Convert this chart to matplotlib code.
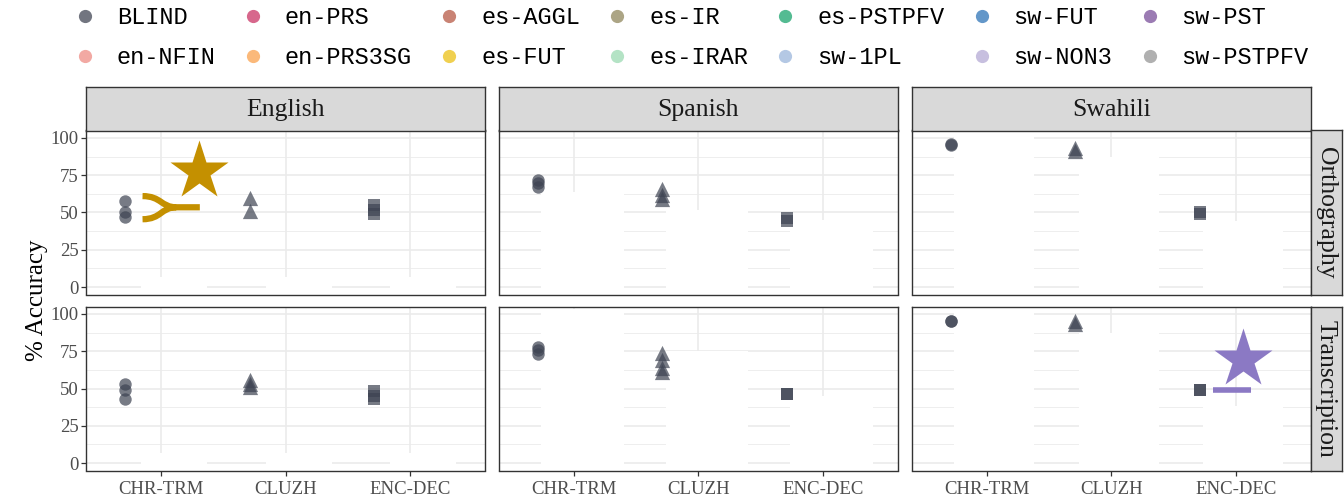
import matplotlib.pyplot as plt
from matplotlib.lines import Line2D
from matplotlib.path import Path
from matplotlib.patches import PathPatch
from matplotlib.font_manager import FontProperties

plt.rcParams['font.family'] = ['Liberation Serif', 'DejaVu Serif']

# data
languages = ['English', 'Spanish', 'Swahili']
conditions = ['Orthography', 'Transcription']
systems = ['CHR-TRM', 'CLUZH', 'ENC-DEC']
markers = ['o', '^', 's']
sizes = [80, 120, 70]

# BLIND accuracies (one list of runs per system)
en_orth = [[58, 50, 47], [60, 51], [55, 52, 49]]
es_orth = [[72, 70, 67], [66, 62, 59], [46, 44]]
sw_orth = [[96, 95], [93, 91], [50, 49]]
en_trans = [[53, 49, 43], [56, 53, 51], [48, 45, 43]]
es_trans = [[78, 76, 73], [74, 69, 64, 61], [46, 46]]
sw_trans = [[95, 95], [95, 93], [49, 49]]
blind = {('English', 'Orthography'): en_orth, ('Spanish', 'Orthography'): es_orth,
         ('Swahili', 'Orthography'): sw_orth, ('English', 'Transcription'): en_trans,
         ('Spanish', 'Transcription'): es_trans, ('Swahili', 'Transcription'): sw_trans}

# white cover boxes (heights per system)
en_mask_orth = [7, 7, 7]
es_mask_orth = [64, 52, 45]
sw_mask_orth = [106, 87, 44]
en_mask_trans = [7, 7, 7]
es_mask_trans = [103, 75, 45]
sw_mask_trans = [106, 87, 38]
masks = {('English', 'Orthography'): en_mask_orth, ('Spanish', 'Orthography'): es_mask_orth,
         ('Swahili', 'Orthography'): sw_mask_orth, ('English', 'Transcription'): en_mask_trans,
         ('Spanish', 'Transcription'): es_mask_trans, ('Swahili', 'Transcription'): sw_mask_trans}
mask_span = {'English': (-0.16, 0.37), 'Spanish': (-0.26, 0.40), 'Swahili': (-0.26, 0.38)}
blind_dodge = -0.29

legend_labels = ['BLIND', 'en-NFIN', 'en-PRS', 'en-PRS3SG', 'es-AGGL', 'es-FUT', 'es-IR',
                 'es-IRAR', 'es-PSTPFV', 'sw-1PL', 'sw-FUT', 'sw-NON3', 'sw-PST', 'sw-PSTPFV']
legend_colors = ['#727580', '#f2a9a3', '#d7678c', '#fbb97a', '#c98374', '#f0d050', '#aca585',
                 '#b4e3c5', '#54bb92', '#b4c8e4', '#6397c9', '#c7bfdf', '#9b7bb3', '#b0b0b0']

# annotations
gold = '#c49000'
purple = '#8b79c4'
gold_star = (1.30, 78)
purple_star = (3.06, 70)
purple_dash_x = [2.82, 3.12]
purple_dash_y = 49

W, H = 1344, 500
fig = plt.figure(figsize=(W / 100, H / 100), dpi=100)


def px_axes(x0, y0, w, h):
    return fig.add_axes([x0 / W, 1 - (y0 + h) / H, w / W, h / H])


col_left = [86.5, 499, 912]
panel_w = 398.5
row_top = [130.5, 306.5]
panel_h = 164
border = '#333333'

axes = {}
for r, cond in enumerate(conditions):
    for c, lang in enumerate(languages):
        ax = px_axes(col_left[c], row_top[r], panel_w, panel_h)
        axes[(lang, cond)] = ax
        ax.set_xlim(0.4, 3.6)
        ax.set_ylim(-5, 105)
        ax.set_yticks([0, 25, 50, 75, 100])
        ax.set_yticks([12.5, 37.5, 62.5, 87.5], minor=True)
        ax.set_xticks([1, 2, 3])
        ax.grid(which='major', color='#ebebeb', lw=1.2, zorder=0)
        ax.grid(which='minor', axis='y', color='#ebebeb', lw=0.6, zorder=0)
        ax.set_axisbelow(True)
        for s in ax.spines.values():
            s.set_color(border)
            s.set_linewidth(1.0)
            s.set_zorder(6)
        ax.tick_params(which='minor', length=0)
        ax.tick_params(which='major', color=border, length=3.5, width=0.9,
                       labelsize=13.5, labelcolor='#4d4d4d', pad=2)
        if c == 0:
            ax.set_yticklabels(['0', '25', '50', '75', '100'])
        else:
            ax.tick_params(axis='y', length=0, labelleft=False)
        if r == 1:
            ax.set_xticklabels(systems)
            ax.tick_params(axis='x', pad=4)
        else:
            ax.tick_params(axis='x', length=0, labelbottom=False)

        # white cover boxes
        lo, hi = mask_span[lang]
        xs = [i + 1 + (lo + hi) / 2 for i in range(3)]
        hts = [h + 5 for h in masks[(lang, cond)]]
        ax.bar(xs, hts, bottom=-5, width=hi - lo, color='white', zorder=3)

        # BLIND points
        for i, vals in enumerate(blind[(lang, cond)]):
            ax.scatter([i + 1 + blind_dodge] * len(vals), vals, marker=markers[i],
                       s=sizes[i], color='#3d4352', alpha=0.7, linewidths=0, zorder=4)

# strips
for c, lang in enumerate(languages):
    sax = px_axes(col_left[c], 87, panel_w, 43.5)
    sax.set_facecolor('#d9d9d9')
    sax.set_xticks([])
    sax.set_yticks([])
    for s in sax.spines.values():
        s.set_color(border)
        s.set_linewidth(1.0)
    sax.text(0.5, 0.48, lang, ha='center', va='center', fontsize=18.5,
             color='#1a1a1a', transform=sax.transAxes)
for r, cond in enumerate(conditions):
    sax = px_axes(1310.5, row_top[r], 31, panel_h)
    sax.set_facecolor('#d9d9d9')
    sax.set_xticks([])
    sax.set_yticks([])
    for s in sax.spines.values():
        s.set_color(border)
        s.set_linewidth(1.0)
    sax.text(0.5, 0.5, cond, ha='center', va='center', fontsize=18.5, rotation=-90,
             color='#1a1a1a', transform=sax.transAxes)

fig.text(37 / W, 1 - 300 / H, '% Accuracy', rotation=90, ha='center', va='center', fontsize=18)

# gold fork + star (English / Orthography)
ax = axes[('English', 'Orthography')]
fork = Path([(0.85, 61), (1.0, 61), (1.0, 53.5), (1.12, 53.5), (1.31, 53.5),
             (0.85, 45.5), (1.0, 45.5), (1.0, 53.5), (1.12, 53.5)],
            [Path.MOVETO, Path.CURVE4, Path.CURVE4, Path.CURVE4, Path.LINETO,
             Path.MOVETO, Path.CURVE4, Path.CURVE4, Path.CURVE4])
ax.add_patch(PathPatch(fork, fill=False, edgecolor=gold, lw=4.5, capstyle='butt', zorder=5))
ax.plot(*gold_star, marker='*', markersize=44, color=gold, mec='none', zorder=5)

# purple star + dash (Swahili / Transcription)
ax = axes[('Swahili', 'Transcription')]
ax.plot(*purple_star, marker='*', markersize=44, color=purple, mec='none', zorder=5)
ax.plot(purple_dash_x, [purple_dash_y] * 2, color=purple, lw=4, solid_capstyle='butt', zorder=5)

# legend
handles = [Line2D([], [], marker='o', ls='', markersize=9.5, color=col, mec='none')
           for col in legend_colors]
fig.legend(handles, legend_labels, ncol=7, loc='upper left', bbox_to_anchor=(73 / W, 1 - 6 / H),
           frameon=False, prop=FontProperties(family='Liberation Mono', size=17),
           handlelength=1.0, handletextpad=0.85, columnspacing=1.08, labelspacing=0.72,
           borderpad=0, borderaxespad=0)

fig.savefig('out.png', dpi=100)
